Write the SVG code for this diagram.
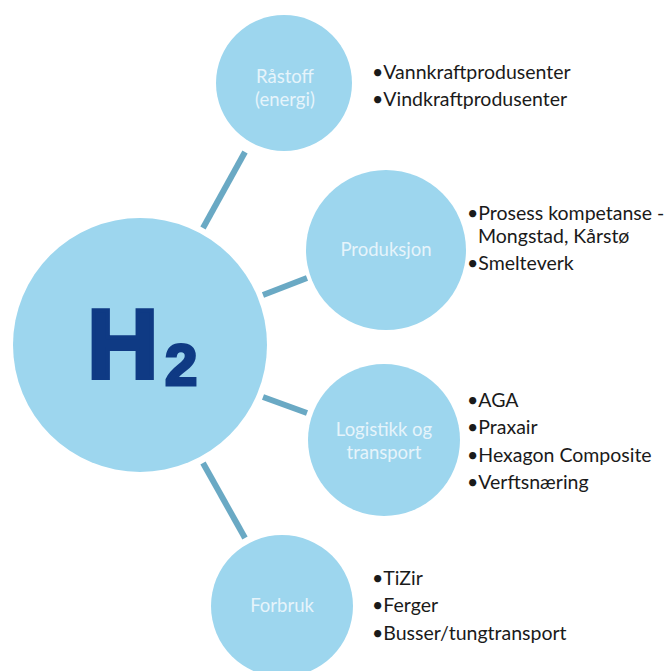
<svg xmlns="http://www.w3.org/2000/svg" width="668" height="671" viewBox="0 0 668 671">
  <style>
    .bubble { fill: #9dd6ee; }
    .label { font-family: Lato, "Open Sans", "Liberation Sans", sans-serif; font-size: 18.5px; fill: #e6f4fb; text-anchor: middle; }
    .item { font-family: Lato, "Open Sans", "Liberation Sans", sans-serif; font-size: 19.5px; fill: #1a1a1a; }
    .link { stroke: #6aa9c4; stroke-width: 6; stroke-linecap: butt; fill: none; }
    .formula { font-family: "Liberation Sans", Arial, sans-serif; font-weight: 700; fill: #0f3a84; stroke: #0f3a84; stroke-linejoin: miter; }
  </style>
  <rect width="668" height="671" fill="#ffffff"/>

  <g id="connectors">
    <line class="link" x1="203" y1="228" x2="245" y2="152"/>
    <line class="link" x1="263" y1="295" x2="307" y2="278"/>
    <line class="link" x1="263" y1="397" x2="307" y2="413"/>
    <line class="link" x1="203" y1="463" x2="245" y2="538"/>
  </g>

  <g id="h2">
    <circle class="bubble" cx="140" cy="345" r="127"/>
    <text class="formula" x="87" y="378" font-size="99" stroke-width="4">H</text>
    <text class="formula" x="165" y="385" font-size="58" stroke-width="3">2</text>
  </g>

  <g id="rastoff">
    <circle class="bubble" cx="284" cy="83" r="68"/>
    <text class="label" x="285" y="83">Råstoff</text>
    <text class="label" x="285" y="106">(energi)</text>
    <text class="item" x="372" y="79">•Vannkraftprodusenter</text>
    <text class="item" x="372" y="106">•Vindkraftprodusenter</text>
  </g>

  <g id="produksjon">
    <circle class="bubble" cx="386" cy="250" r="80"/>
    <text class="label" x="386" y="256">Produksjon</text>
    <text class="item" x="467" y="220">•Prosess kompetanse -</text>
    <text class="item" x="478" y="243">Mongstad, Kårstø</text>
    <text class="item" x="467" y="270">•Smelteverk</text>
  </g>

  <g id="logistikk">
    <circle class="bubble" cx="384" cy="440" r="76"/>
    <text class="label" x="384" y="436">Logistikk og</text>
    <text class="label" x="384" y="459">transport</text>
    <text class="item" x="467" y="407">•AGA</text>
    <text class="item" x="467" y="434">•Praxair</text>
    <text class="item" x="467" y="462">•Hexagon Composite</text>
    <text class="item" x="467" y="489">•Verftsnæring</text>
  </g>

  <g id="forbruk">
    <circle class="bubble" cx="282" cy="606" r="71"/>
    <text class="label" x="282" y="612">Forbruk</text>
    <text class="item" x="372" y="585">•TiZir</text>
    <text class="item" x="372" y="612">•Ferger</text>
    <text class="item" x="372" y="640">•Busser/tungtransport</text>
  </g>
</svg>
